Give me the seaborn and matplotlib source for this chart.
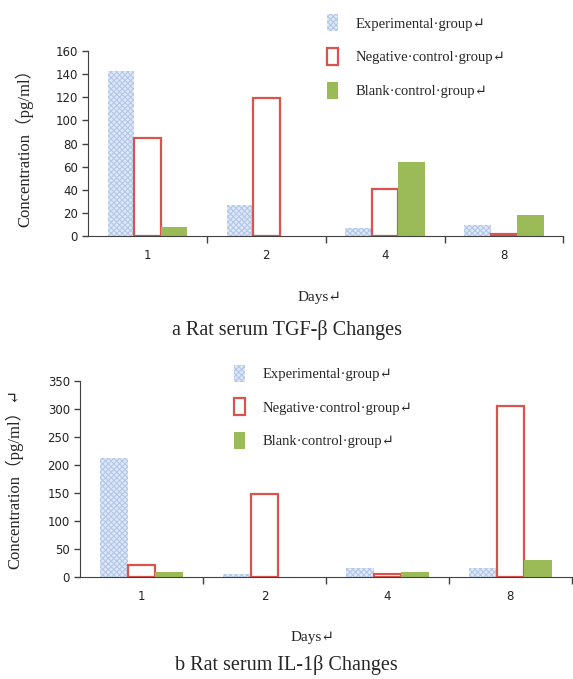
import matplotlib
matplotlib.use("Agg")
import matplotlib.pyplot as plt
from matplotlib.patches import Patch
import numpy as np
import pandas as pd
import seaborn as sns

days = ["1", "2", "4", "8"]
groups = ["Experimental·group↵", "Negative·control·group↵", "Blank·control·group↵"]

# panel a: TGF-beta
tgf_exp = [143, 27, 7, 10]
tgf_neg = [85, 119, 41, 2]
tgf_blank = [8, 0, 64, 18]

# panel b: IL-1beta
il_exp = [212, 5, 17, 17]
il_neg = [22, 149, 5, 305]
il_blank = [10, 0, 10, 31]

EXP_FACE = "#dfe8f6"
EXP_HATCH = "#b3c7ea"
NEG_EDGE = "#d9534f"
BLANK = "#9bbb59"
SERIF = ["Liberation Serif", "Noto Sans CJK SC", "DejaVu Serif"]


def make_frame(exp, neg, blank):
    rows = []
    for g, vals in zip(groups, [exp, neg, blank]):
        for d, v in zip(days, vals):
            rows.append({"day": d, "group": g, "value": v})
    return pd.DataFrame(rows)


def draw_panel(ax, df, ymax, ystep, ylabel):
    sns.barplot(data=df, x="day", y="value", hue="group", order=days,
                hue_order=groups, width=0.67, saturation=1,
                palette=[EXP_FACE, "white", BLANK], legend=False, ax=ax)
    for bar in ax.containers[0]:
        bar.set_edgecolor(EXP_HATCH)
        bar.set_hatch("xxxxxx")
        bar.set_linewidth(0)
    for bar in ax.containers[1]:
        bar.set_edgecolor(NEG_EDGE)
        bar.set_linewidth(1.6)
    for bar in ax.containers[2]:
        bar.set_linewidth(0)

    ax.set_xlim(-0.5, 3.5)
    ax.set_ylim(0, ymax)
    ax.set_yticks(np.arange(0, ymax + 1, ystep))
    ax.set_xticks([0.5, 1.5, 2.5, 3.5], minor=True)
    ax.tick_params(axis="x", which="major", bottom=True, length=0, pad=9,
                   labelsize=8.5, labelcolor="#222222")
    ax.tick_params(axis="x", which="minor", bottom=True, length=5, width=1,
                   direction="out", color="#404040")
    ax.tick_params(axis="y", left=True, length=4, width=1, direction="out",
                   labelsize=8.5, color="#404040", labelcolor="#222222")
    for s in ["top", "right"]:
        ax.spines[s].set_visible(False)
    for s in ["left", "bottom"]:
        ax.spines[s].set_color("#404040")
    ax.set_xlabel("")
    ax.set_ylabel(ylabel, family=SERIF, fontsize=12)
    ax.yaxis.set_label_coords(-0.115, 0.5)


def legend_handles():
    return [
        Patch(facecolor=EXP_FACE, edgecolor=EXP_HATCH, hatch="xxxxxx", linewidth=0),
        Patch(facecolor="white", edgecolor=NEG_EDGE, linewidth=1.6),
        Patch(facecolor=BLANK, linewidth=0),
    ]


sns.set_style("white")
plt.rcParams["hatch.linewidth"] = 0.8
fig = plt.figure(figsize=(5.73, 6.79), dpi=100)

ax1 = fig.add_axes([0.154, 0.652, 0.829, 0.273])
draw_panel(ax1, make_frame(tgf_exp, tgf_neg, tgf_blank), 160, 20,
           "Concentration（pg/ml）")
fig.legend(legend_handles(), groups, loc="upper left", bbox_to_anchor=(0.548, 0.998),
           frameon=False, handlelength=0.75, handleheight=1.4, labelspacing=1.15,
           handletextpad=1.2, prop={"family": SERIF, "size": 10.5})
fig.text(0.558, 1 - 297 / 679, "Days↵", ha="center", va="center", family=SERIF, fontsize=11)
fig.text(0.5, 1 - 330 / 679, "a Rat serum TGF-β Changes", ha="center", va="center",
         family=SERIF, fontsize=14.5)

ax2 = fig.add_axes([0.140, 0.150, 0.858, 0.289])
draw_panel(ax2, make_frame(il_exp, il_neg, il_blank), 350, 50,
           "Concentration（pg/ml）↵")
fig.legend(legend_handles(), groups, loc="upper left", bbox_to_anchor=(0.385, 0.482),
           frameon=False, handlelength=0.75, handleheight=1.4, labelspacing=1.15,
           handletextpad=1.2, prop={"family": SERIF, "size": 10.5})
fig.text(0.546, 1 - 637 / 679, "Days↵", ha="center", va="center", family=SERIF, fontsize=11)
fig.text(0.5, 1 - 665 / 679, "b Rat serum IL-1β Changes", ha="center", va="center",
         family=SERIF, fontsize=14.5)

fig.savefig("out.png", dpi=100)
